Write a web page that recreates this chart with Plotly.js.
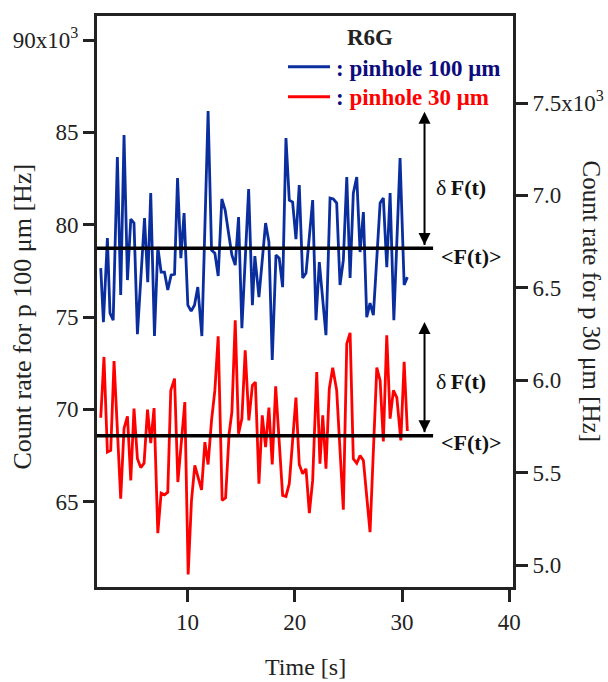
<!DOCTYPE html>
<html>
<head>
<meta charset="utf-8">
<script src="https://cdn.plot.ly/plotly-3.0.1.min.js"></script>
<style>html,body{margin:0;padding:0;background:#fff;}#chart{width:608px;height:682px;}</style>
</head>
<body>
<div id="chart"></div>
<script>
// Time axis [s]
var blueTime = [1.91,2.16,2.53,2.77,3.07,3.46,3.77,4.08,4.40,4.71,5.01,5.33,5.99,6.29,6.57,6.92,7.23,7.54,7.85,8.16,8.47,8.79,9.07,9.38,9.68,10.03,10.34,10.65,10.96,11.34,11.92,12.24,12.55,12.86,13.20,13.51,13.83,14.14,14.45,14.76,15.07,15.70,16.05,16.28,16.66,17.28,17.59,17.90,18.25,18.55,18.87,19.18,19.49,19.80,20.11,20.42,20.74,21.05,21.67,21.98,22.29,22.91,23.29,23.60,23.91,24.22,24.53,24.85,25.16,25.46,25.78,26.09,26.40,26.71,27.02,27.33,27.96,28.26,28.58,28.89,29.24,29.82,30.20,30.50];
// Count rate for pinhole 100 um [x10^3 Hz]
var blueRate = [77.65,74.72,79.27,75.21,74.83,83.66,76.19,84.85,77.0,80.30,80.09,74.07,80.36,76.89,81.71,73.97,78.79,77.43,77.43,76.46,77.27,77.32,82.52,78.19,80.63,75.64,75.32,75.64,76.62,73.97,86.15,78.62,78.46,77.22,81.39,80.79,79.54,78.35,77.81,80.41,74.40,81.93,75.64,78.30,76.08,80.09,79.06,72.67,78.35,78.19,76.62,84.69,81.33,81.22,79.22,82.15,77.11,77.38,81.33,74.83,77.97,74.02,81.44,81.39,81.17,76.73,78.08,82.58,77.11,81.71,82.58,78.52,80.68,74.99,75.75,75.10,81.17,81.44,77.70,81.71,74.83,83.61,76.73,77.16];
var redTime = [1.91,2.21,2.53,2.84,3.15,3.77,4.08,4.40,4.71,5.01,5.33,5.64,5.95,6.27,6.57,6.88,7.23,7.54,7.85,8.16,8.44,8.79,9.10,9.75,10.06,10.37,10.68,11.31,11.62,11.92,12.24,12.55,12.86,13.23,13.55,13.88,14.14,14.45,14.76,15.07,15.38,15.72,16.05,16.33,16.66,16.97,17.28,17.59,17.90,18.22,18.87,19.18,19.49,20.11,20.42,20.74,21.05,21.36,21.67,22.05,22.35,22.61,22.91,23.22,23.54,23.91,24.53,24.85,25.16,25.46,25.78,26.09,26.40,27.02,27.65,27.96,28.26,28.58,28.89,29.20,29.52,29.89,30.20,30.50];
// Count rate for pinhole 30 um [x10^3 Hz]
var redRate = [5.797,6.126,5.611,5.620,6.104,5.359,5.739,5.804,5.458,5.846,5.575,5.527,5.551,5.841,5.660,5.849,5.172,5.389,5.380,5.394,5.945,6.009,5.449,5.882,4.949,5.349,5.539,5.407,5.665,5.544,5.783,5.945,6.238,5.349,5.364,5.711,5.828,6.324,5.711,5.792,6.162,5.783,5.972,5.990,5.440,5.810,5.638,5.852,5.544,5.967,5.376,5.371,5.440,5.906,5.544,5.494,5.521,5.281,5.458,6.044,5.548,5.810,5.521,5.954,6.068,5.945,5.299,6.198,6.256,5.575,5.551,5.593,5.566,5.178,6.068,5.999,5.669,6.243,5.792,5.945,5.906,5.674,6.099,5.725];

var meanBlue = 78.72;
var meanRed = 5.70;
var meanLineEnd = 32.9;
var deltaBlue = [78.9, 86.12];   // arrow extent on left axis
var deltaRed = [5.719, 6.315];   // arrow extent on right axis
var arrowTime = 32.1;

var xTicks = [10, 20, 30, 40];
var yTicks = [65, 70, 75, 80, 85, 90];
var yTickText = ['65', '70', '75', '80', '85', '90x10<sup>3</sup>'];
var y2Ticks = [5.0, 5.5, 6.0, 6.5, 7.0, 7.5];
var y2TickText = ['5.0', '5.5', '6.0', '6.5', '7.0', '7.5x10<sup>3</sup>'];

var seriesNames = ['pinhole 100 μm', 'pinhole 30 μm'];

var BLUE = '#0a2e9e', NAVY = '#0c0c7c', RED = '#ff0000', AX = '#222222';
var FONT = 'Liberation Serif, Times New Roman, serif';
var X_RANGE = [1.56, 40.35];

var traces = [
  {x: blueTime, y: blueRate, type: 'scatter', mode: 'lines', name: seriesNames[0],
   line: {color: BLUE, width: 2.8}, xaxis: 'x', yaxis: 'y'},
  {x: redTime, y: redRate, type: 'scatter', mode: 'lines', name: seriesNames[1],
   line: {color: RED, width: 2.8}, xaxis: 'x', yaxis: 'y2'},
  // double-headed arrows for delta F(t)
  {x: [arrowTime, arrowTime], y: deltaBlue, type: 'scatter', mode: 'lines+markers', xaxis: 'x', yaxis: 'y',
   line: {color: '#000', width: 2}, marker: {symbol: ['arrow-down', 'arrow-up'], size: 12, color: '#000'},
   hoverinfo: 'skip'},
  {x: [arrowTime, arrowTime], y: deltaRed, type: 'scatter', mode: 'lines+markers', xaxis: 'x', yaxis: 'y2',
   line: {color: '#000', width: 2}, marker: {symbol: ['arrow-down', 'arrow-up'], size: 12, color: '#000'},
   hoverinfo: 'skip'}
];

function px2x(px){ return (px - 97.3) / 415.4; }
function px2y(py){ return (587 - py) / 571; }

var axisCommon = {
  ticks: 'outside', tickwidth: 3, tickcolor: AX, showline: true, linewidth: 3,
  linecolor: AX, showgrid: false, zeroline: false,
  tickfont: {family: FONT, size: 23, color: AX}
};

function txt(px, py, text, size, color, extra){
  return Object.assign({xref: 'paper', yref: 'paper', x: px2x(px), y: px2y(py), text: text,
    showarrow: false, xanchor: 'center', yanchor: 'middle',
    font: {family: FONT, size: size, color: color}}, extra || {});
}

var layout = {
  width: 608, height: 682,
  margin: {l: 97, r: 95, t: 16, b: 95, pad: 0},
  paper_bgcolor: '#ffffff', plot_bgcolor: '#ffffff',
  showlegend: false,
  font: {family: FONT, size: 23, color: AX},
  xaxis: Object.assign({}, axisCommon, {range: X_RANGE, tickmode: 'array', tickvals: xTicks,
    ticktext: xTicks.map(String), ticklen: 12, mirror: true}),
  yaxis: Object.assign({}, axisCommon, {range: [60.38, 91.3], tickmode: 'array', tickvals: yTicks,
    ticktext: yTickText, ticklen: 11}),
  yaxis2: Object.assign({}, axisCommon, {range: [4.881, 7.971], tickmode: 'array', tickvals: y2Ticks,
    ticktext: y2TickText, ticklen: 12, overlaying: 'y', side: 'right'}),
  shapes: [
    {type: 'line', xref: 'paper', yref: 'y', x0: 0, x1: (meanLineEnd - X_RANGE[0]) / (X_RANGE[1] - X_RANGE[0]),
     y0: meanBlue, y1: meanBlue, line: {color: '#000', width: 3.5}},
    {type: 'line', xref: 'paper', yref: 'y2', x0: 0, x1: (meanLineEnd - X_RANGE[0]) / (X_RANGE[1] - X_RANGE[0]),
     y0: meanRed, y1: meanRed, line: {color: '#000', width: 3.5}},
    {type: 'line', xref: 'paper', yref: 'paper', x0: px2x(288), x1: px2x(330),
     y0: px2y(66.7), y1: px2y(66.7), line: {color: BLUE, width: 3}},
    {type: 'line', xref: 'paper', yref: 'paper', x0: px2x(288), x1: px2x(330),
     y0: px2y(96.7), y1: px2y(96.7), line: {color: RED, width: 3}}
  ],
  annotations: [
    txt(461, 188, 'δ\u2009<b>F(t)</b>', 22, '#111'),
    txt(471.5, 256, '<b>&lt;F(t)&gt;</b>', 22, '#111'),
    txt(461, 381, 'δ\u2009<b>F(t)</b>', 22, '#111'),
    txt(471.5, 442, '<b>&lt;F(t)&gt;</b>', 22, '#111'),
    txt(370, 37, '<b>R6G</b>', 23, '#222'),
    txt(334, 68, '<b>: ' + seriesNames[0] + '</b>', 23, NAVY, {xanchor: 'left'}),
    txt(334, 98, '<b><span style="color:' + NAVY + '">:</span> ' + seriesNames[1] + '</b>', 23, RED, {xanchor: 'left'}),
    txt(22, 317, 'Count rate for p 100 μm [Hz]', 26, '#222', {textangle: -90}),
    txt(592, 301, 'Count rate for p 30 μm [Hz]', 25, '#222', {textangle: 90}),
    txt(305, 667, 'Time [s]', 24, '#222')
  ]
};

Plotly.newPlot('chart', traces, layout, {displayModeBar: false, staticPlot: true});
</script>
</body>
</html>
